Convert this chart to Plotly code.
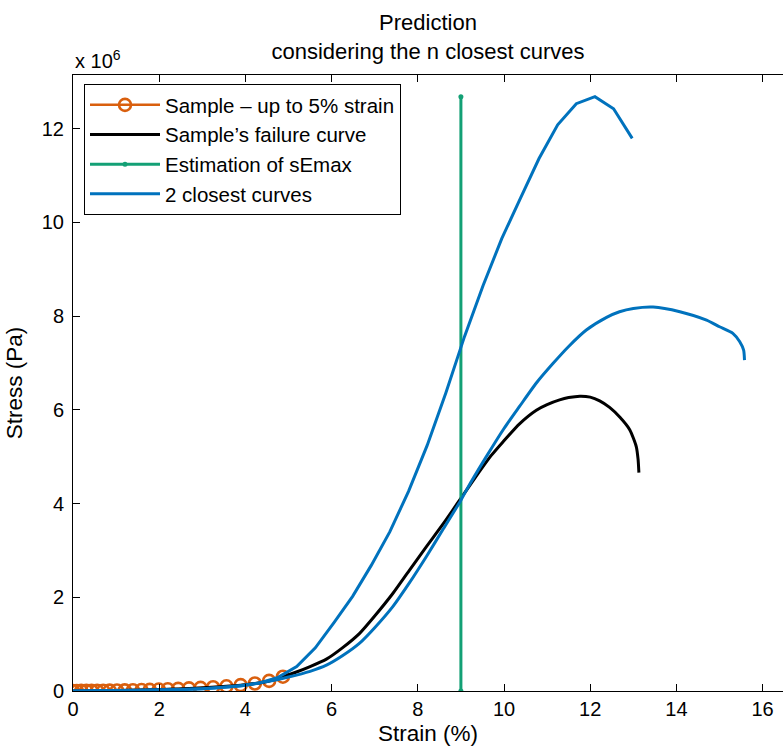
import numpy as np
import plotly.graph_objects as go

# ---- data (stress in units of 1e6 Pa, strain in %) ----
sample_strain = [0.00, 0.09, 0.19, 0.31, 0.43, 0.56, 0.70, 0.85, 1.02, 1.20, 1.39, 1.59,
                 1.78, 1.99, 2.20, 2.44, 2.69, 2.96, 3.25, 3.56, 3.89, 4.22, 4.55, 4.87]
sample_stress = [0.000, 0.001, 0.002, 0.003, 0.004, 0.005, 0.006, 0.008, 0.010, 0.013, 0.016, 0.020,
                 0.025, 0.031, 0.037, 0.045, 0.055, 0.066, 0.080, 0.100, 0.125, 0.160, 0.215, 0.305]

failure_strain = sample_strain + [5.20, 5.50, 5.88, 6.25, 6.65, 7.00, 7.42, 7.80, 8.20, 8.60, 8.97,
                                  9.40, 9.70, 9.98, 10.36, 10.75, 11.00, 11.29, 11.50, 11.76, 12.00, 12.22,
                                  12.45, 12.69, 12.92, 13.07, 13.11, 13.13]
failure_stress = sample_stress + [0.41, 0.52, 0.68, 0.92, 1.23, 1.60, 2.08, 2.57, 3.08, 3.58, 4.07,
                                  4.64, 5.02, 5.32, 5.70, 5.99, 6.11, 6.21, 6.26, 6.29, 6.27, 6.19,
                                  6.05, 5.84, 5.57, 5.21, 4.95, 4.66]

semax_strain = [9.0, 9.0]
semax_stress = [0.0, 12.68]

closest1_strain = [0.0, 0.4325, 0.865, 1.2975, 1.73, 2.1625, 2.595, 3.0275, 3.46, 3.8925, 4.325,
                   4.7575, 5.19, 5.6225, 6.055, 6.4875, 6.92, 7.3525, 7.785, 8.2175, 8.65, 9.0825,
                   9.515, 9.9475, 10.38, 10.8125, 11.245, 11.6775, 12.11, 12.5425, 12.975]
closest1_stress = [0.0, 0.003, 0.006, 0.010, 0.015, 0.022, 0.032, 0.047, 0.070, 0.105, 0.17,
                   0.29, 0.52, 0.92, 1.46, 2.02, 2.68, 3.40, 4.26, 5.24, 6.36, 7.56,
                   8.65, 9.65, 10.51, 11.36, 12.08, 12.53, 12.68, 12.42, 11.79]

closest2_strain = [0.0, 1.0, 2.0, 3.0, 3.5, 4.0, 4.5, 5.0, 5.5, 5.88, 6.25, 6.65, 7.0, 7.42, 7.8,
                   8.2, 8.6, 9.0, 9.13, 9.59, 10.0, 10.36, 10.75, 11.14, 11.5, 11.91, 12.38,
                   12.68, 13.0, 13.46, 14.08, 14.70, 15.0, 15.31, 15.47, 15.56, 15.58]
closest2_stress = [0.0, 0.005, 0.02, 0.05, 0.08, 0.13, 0.20, 0.30, 0.42, 0.55, 0.75, 1.02, 1.35, 1.80, 2.30,
                   2.87, 3.47, 4.07, 4.29, 5.00, 5.60, 6.07, 6.57, 6.99, 7.35, 7.70, 7.97,
                   8.09, 8.16, 8.19, 8.09, 7.91, 7.77, 7.63, 7.45, 7.27, 7.06]

y_ticks = [0, 2, 4, 6, 8, 10, 12]
x_ticks = [0, 2, 4, 6, 8, 10, 12, 14, 16]

SCALE = 1e6
ORANGE = "#D95F0E"
GREEN = "#13A075"
BLUE = "#0072BD"
FONT = "Liberation Sans, Arial, Helvetica, sans-serif"

fig = go.Figure()
fig.add_trace(go.Scatter(
    x=sample_strain, y=np.array(sample_stress) * SCALE, mode="lines+markers",
    name="Sample \u2013 up to 5% strain",
    line=dict(color=ORANGE, width=2.5),
    marker=dict(symbol="circle-open", size=12, color=ORANGE, line=dict(width=2.6, color=ORANGE)),
))
fig.add_trace(go.Scatter(
    x=failure_strain, y=np.array(failure_stress) * SCALE, mode="lines",
    name="Sample\u2019s failure curve", line=dict(color="black", width=3, shape="spline", smoothing=0.6),
))
fig.add_trace(go.Scatter(
    x=semax_strain, y=np.array(semax_stress) * SCALE, mode="lines+markers",
    name="Estimation of sEmax", line=dict(color=GREEN, width=3),
    marker=dict(size=5, color=GREEN),
))
fig.add_trace(go.Scatter(
    x=closest1_strain, y=np.array(closest1_stress) * SCALE, mode="lines",
    name="2 closest curves", legendgroup="closest", line=dict(color=BLUE, width=3),
))
fig.add_trace(go.Scatter(
    x=closest2_strain, y=np.array(closest2_stress) * SCALE, mode="lines",
    name="2 closest curves", legendgroup="closest", showlegend=False,
    line=dict(color=BLUE, width=3, shape="spline", smoothing=0.6),
))

W, H = 783, 751
L, R, T, B = 73, 0, 75, 60
px_per_x = 43.1
px_per_y = 46.875
x_max = (W - L - R) / px_per_x
y_max = (H - T - B) / px_per_y

fig.update_layout(
    width=W, height=H,
    margin=dict(l=L, r=R, t=T, b=B),
    paper_bgcolor="white", plot_bgcolor="white",
    font=dict(family=FONT, size=20, color="black"),
    title=dict(text="Prediction<br>considering the n closest curves",
               x=(L + (W - L) / 2) / W, xanchor="center", xref="container",
               y=1 - 30 / H, yanchor="top", yref="container",
               font=dict(size=22, family=FONT, color="black")),
    showlegend=True,
    legend=dict(x=(84 - L) / (W - L), y=1 - (84 - T) / (H - T - B),
                xanchor="left", yanchor="top",
                bgcolor="white", bordercolor="black", borderwidth=1,
                font=dict(size=20.5, family=FONT), itemwidth=70,
                tracegroupgap=0),
    xaxis=dict(range=[0, x_max], tickvals=x_ticks, ticks="inside", ticklen=7,
               tickcolor="black", showline=True, linecolor="black", linewidth=1,
               mirror="ticks", showgrid=False, zeroline=False,
               tickfont=dict(size=20),
               title=dict(text="Strain (%)", font=dict(size=22.5), standoff=6)),
    yaxis=dict(range=[0, y_max * SCALE], tickvals=[v * SCALE for v in y_ticks],
               ticktext=[str(v) for v in y_ticks], ticks="inside", ticklen=7,
               tickcolor="black", showline=True, linecolor="black", linewidth=1,
               mirror=False, showgrid=False, zeroline=False,
               tickfont=dict(size=20), ticklabelstandoff=4,
               title=dict(text="Stress (Pa)", font=dict(size=22.5), standoff=12)),
    annotations=[dict(text="x 10<sup>6</sup>", xref="paper", yref="paper",
                      x=0, y=1, xanchor="left", yanchor="bottom", yshift=1,
                      showarrow=False, font=dict(size=20, family=FONT))],
)

fig.write_html("out.html")
